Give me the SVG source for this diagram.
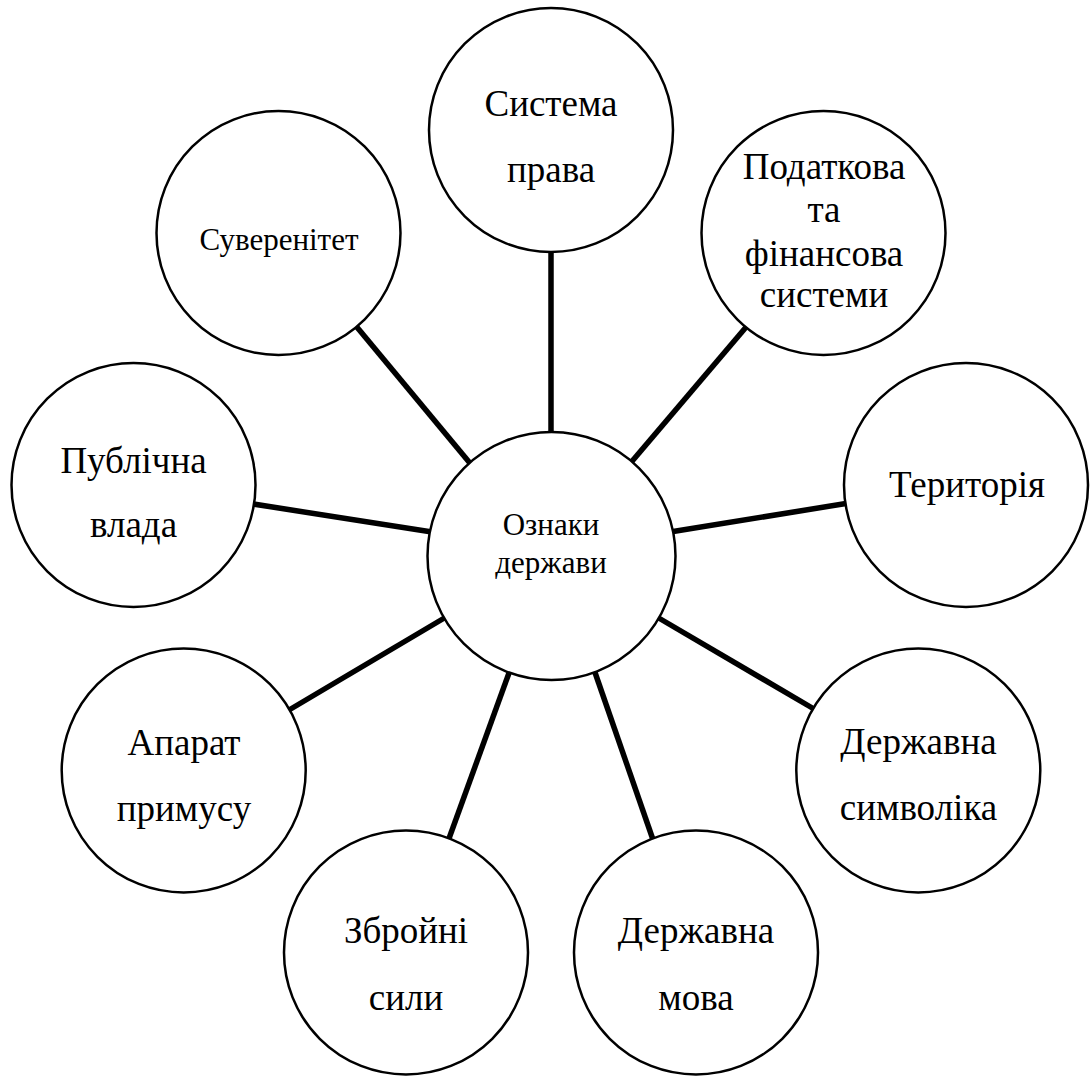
<svg xmlns="http://www.w3.org/2000/svg" width="1090" height="1077" viewBox="0 0 1090 1077">
<defs>
<circle id="c" r="122" fill="#fff" stroke="#000" stroke-width="2.5"/>
</defs>
<rect width="1090" height="1077" fill="#fff"/>
<g id="connectors" stroke="#000" stroke-width="5.5">
<line x1="356" y1="326" x2="474" y2="468"/>
<line x1="551" y1="250" x2="551" y2="435"/>
<line x1="747" y1="326" x2="628" y2="466"/>
<line x1="253" y1="504" x2="432" y2="532"/>
<line x1="849" y1="503" x2="670" y2="532"/>
<line x1="289" y1="710" x2="446" y2="617"/>
<line x1="814" y1="709" x2="657" y2="617"/>
<line x1="447" y1="844" x2="509" y2="673"/>
<line x1="654.5" y1="844" x2="594.5" y2="671"/>
</g>
<g id="center">
<circle cx="551.5" cy="556" r="124" fill="#fff" stroke="#000" stroke-width="2.5"/>
<text x="551" y="535" font-family="Liberation Serif" font-size="31" text-anchor="middle">Ознаки</text>
<text x="551" y="573" font-family="Liberation Serif" font-size="31" text-anchor="middle">держави</text>
</g>
<g id="suverenitet">
<use href="#c" x="278.5" y="233"/>
<text x="279" y="250" font-family="Liberation Serif" font-size="31" text-anchor="middle">Суверенітет</text>
</g>
<g id="systema-prava">
<use href="#c" x="551" y="130"/>
<text x="551" y="116" font-family="Liberation Serif" font-size="37" text-anchor="middle">Система</text>
<text x="551" y="182" font-family="Liberation Serif" font-size="37" text-anchor="middle">права</text>
</g>
<g id="podatkova">
<use href="#c" x="823.5" y="233"/>
<text x="824" y="179" font-family="Liberation Serif" font-size="37" text-anchor="middle">Податкова</text>
<text x="824" y="222" font-family="Liberation Serif" font-size="37" text-anchor="middle">та</text>
<text x="824" y="266" font-family="Liberation Serif" font-size="37" text-anchor="middle">фінансова</text>
<text x="824" y="307" font-family="Liberation Serif" font-size="37" text-anchor="middle">системи</text>
</g>
<g id="publichna-vlada">
<use href="#c" x="133.5" y="485"/>
<text x="133.5" y="473" font-family="Liberation Serif" font-size="37" text-anchor="middle">Публічна</text>
<text x="133.5" y="537" font-family="Liberation Serif" font-size="37" text-anchor="middle">влада</text>
</g>
<g id="terytoriia">
<use href="#c" x="966" y="485"/>
<text x="967" y="497" font-family="Liberation Serif" font-size="37" text-anchor="middle">Територія</text>
</g>
<g id="aparat-prymusu">
<use href="#c" x="183.7" y="770.5"/>
<text x="184" y="755" font-family="Liberation Serif" font-size="37" text-anchor="middle">Апарат</text>
<text x="184" y="821" font-family="Liberation Serif" font-size="37" text-anchor="middle">примусу</text>
</g>
<g id="derzhavna-symvolika">
<use href="#c" x="918.3" y="770.5"/>
<text x="918.5" y="754" font-family="Liberation Serif" font-size="37" text-anchor="middle">Державна</text>
<text x="918.5" y="820" font-family="Liberation Serif" font-size="37" text-anchor="middle">символіка</text>
</g>
<g id="zbroini-syly">
<use href="#c" x="406" y="952.5"/>
<text x="406" y="943" font-family="Liberation Serif" font-size="37" text-anchor="middle">Збройні</text>
<text x="406" y="1010" font-family="Liberation Serif" font-size="37" text-anchor="middle">сили</text>
</g>
<g id="derzhavna-mova">
<use href="#c" x="696" y="952.5"/>
<text x="696" y="943" font-family="Liberation Serif" font-size="37" text-anchor="middle">Державна</text>
<text x="696" y="1010" font-family="Liberation Serif" font-size="37" text-anchor="middle">мова</text>
</g>
</svg>
